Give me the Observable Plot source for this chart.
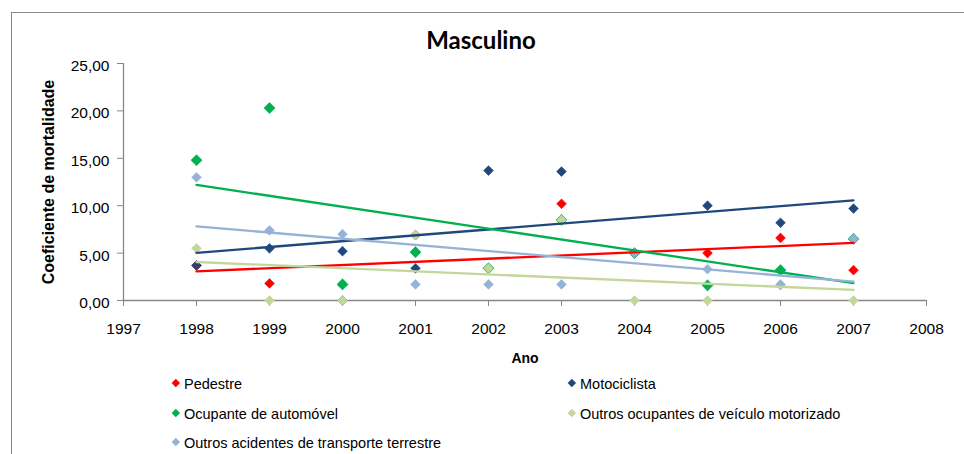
<!DOCTYPE html>
<html lang="pt">
<head>
<meta charset="utf-8">
<script src="https://cdn.jsdelivr.net/npm/d3@7"></script>
<script src="https://cdn.jsdelivr.net/npm/@observablehq/plot@0.6"></script>
<style>
  html, body { margin: 0; padding: 0; background: #fff; }
  #chart { position: relative; width: 964px; height: 454px; overflow: hidden; font-family: "Liberation Sans", Arial, sans-serif; }
  #frame { position: absolute; left: 11px; top: 12px; width: 1200px; height: 1200px;
           border-left: 1px solid #8a8a8a; border-top: 1px solid #8a8a8a; }
  #title { position: absolute; left: 0; top: 25px; width: 962px; text-align: center;
           font-family: Lato, "Open Sans", sans-serif; font-weight: bold; font-size: 24px; color: #000; }
  #plot { position: absolute; left: 0; top: 50px; }
  #legend { position: absolute; left: 0; top: 370px; width: 964px; height: 84px; }
  .item { position: absolute; font-size: 14.5px; color: #000; line-height: 1; white-space: nowrap; }
  .item .sw { position: absolute; width: 5.7px; height: 5.7px; transform: rotate(45deg); }
</style>
</head>
<body>
<div id="chart">
  <div id="frame"></div>
  <div id="title">Masculino</div>
  <div id="plot"></div>
  <div id="legend"></div>
</div>
<script>
// Coeficiente de mortalidade por tipo de vítima, sexo masculino, 1998–2007
const years = [1998, 1999, 2000, 2001, 2002, 2003, 2004, 2005, 2006, 2007];

const pedestre          = [3.7, 1.8, 0.0, 6.9, 3.4, 10.2, 5.0, 5.0, 6.6, 3.2];
const motociclista      = [3.7, 5.5, 5.2, 3.4, 13.7, 13.6, 5.0, 10.0, 8.2, 9.7];
const ocupanteAuto      = [14.8, 20.3, 1.7, 5.1, 3.4, 8.5, 5.0, 1.6, 3.2, 6.5];
const outrosOcupantes   = [5.5, 0.0, 0.0, 6.9, 3.4, 8.5, 0.0, 0.0, 1.6, 0.0];
const outrosAcidentes   = [13.0, 7.4, 7.0, 1.7, 1.7, 1.7, 5.0, 3.3, 1.7, 6.5];

const seriesNames = [
  "Pedestre",
  "Motociclista",
  "Ocupante de automóvel",
  "Outros ocupantes de veículo motorizado",
  "Outros acidentes de transporte terrestre"
];
const seriesValues = [pedestre, motociclista, ocupanteAuto, outrosOcupantes, outrosAcidentes];
const seriesColors = ["#ff0000", "#1f497d", "#00b050", "#c3d69b", "#95b3d7"];

const xTicks = [1997, 1998, 1999, 2000, 2001, 2002, 2003, 2004, 2005, 2006, 2007, 2008];
const yTicks = [0, 5, 10, 15, 20, 25];

const xTitle = "Ano";
const yTitle = "Coeficiente de mortalidade";

// long-format table for the library
const rows = seriesNames.flatMap((name, i) =>
  seriesValues[i].map((v, j) => ({series: name, year: years[j], value: v}))
);

const axisGray = "#868686";
const fmt = d => d.toFixed(2).replace(".", ",");

// markers drawn series by series so later series sit on top
const dotMarks = seriesNames.map((name, i) =>
  Plot.dot(rows.filter(d => d.series === name), {
    x: "year", y: "value", fill: "series", stroke: "series",
    strokeWidth: 0.6, symbol: "diamond2",
    r: name === "Ocupante de automóvel" ? 5.0 : 4.4
  })
);

const chart = Plot.plot({
  width: 964,
  height: 320,
  marginTop: 13,
  marginBottom: 70,
  marginLeft: 123,
  marginRight: 38,
  x: {domain: [1997, 2008]},
  y: {domain: [0, 25]},
  color: {domain: seriesNames, range: seriesColors},
  style: {fontFamily: "'Liberation Sans', Arial, sans-serif", fontSize: "15.5px", color: "#000", background: "transparent", overflow: "visible"},
  marks: [
    Plot.ruleX([1997], {stroke: axisGray, strokeWidth: 1.3}),
    Plot.ruleY([0], {stroke: axisGray, strokeWidth: 1.3}),
    // y ticks, then their labels set slightly below each tick
    Plot.axisY({ticks: yTicks, tickSize: 6, text: null, label: null, stroke: axisGray}),
    Plot.text(yTicks, {x: 1997, y: d => d, text: fmt, textAnchor: "end", lineAnchor: "middle", dx: -14, dy: 2.5, fill: "#000"}),
    Plot.axisX({ticks: xTicks, tickFormat: d => String(d), tickSize: 6, tickPadding: 16, label: null, stroke: axisGray, fill: "#000"}),
    ...dotMarks,
    Plot.linearRegressionY(rows, {x: "year", y: "value", stroke: "series", ci: 0, strokeWidth: 2.3}),
    Plot.text([yTitle], {frameAnchor: "left", dx: -75, rotate: -90, textAnchor: "middle", lineAnchor: "middle", fontWeight: "bold", fontSize: 16}),
    Plot.text([xTitle], {frameAnchor: "bottom", dy: 58, textAnchor: "middle", lineAnchor: "middle", fontWeight: "bold", fontSize: 14})
  ]
});
document.getElementById("plot").appendChild(chart);

// legend: two columns below the chart
const legendPos = [
  {x: 176, y: 14},
  {x: 572, y: 14},
  {x: 176, y: 44},
  {x: 572, y: 44},
  {x: 176, y: 73}
];
const legend = document.getElementById("legend");
seriesNames.forEach((name, i) => {
  const p = legendPos[i];
  const item = document.createElement("div");
  item.className = "item";
  item.style.left = (p.x + 8) + "px";
  item.style.top = (p.y - 7) + "px";
  const sw = document.createElement("span");
  sw.className = "sw";
  sw.style.background = seriesColors[i];
  sw.style.left = "-11px";
  sw.style.top = "3px";
  item.appendChild(sw);
  item.appendChild(document.createTextNode(name));
  legend.appendChild(item);
});
</script>
</body>
</html>
